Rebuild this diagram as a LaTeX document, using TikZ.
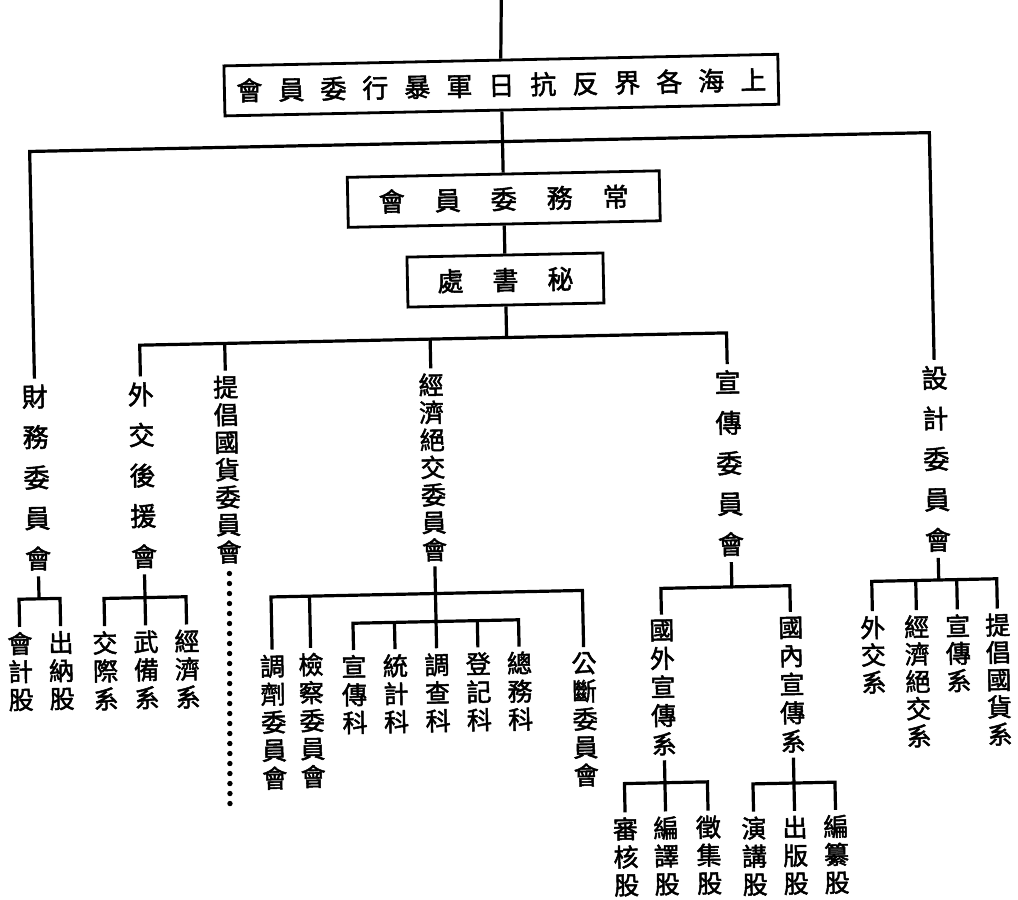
\documentclass[tikz,border=0pt]{standalone}
\usepackage{fontspec}
\newfontfamily\cjk{Noto Sans CJK TC}[FakeBold=2]
\newlength\pbw
\newcommand\pb[1]{\makebox[\pbw]{#1}}
\tikzset{
  ln/.style={line width=3.2pt, line cap=butt, line join=miter},
  dotline/.style={line width=5.4pt, line cap=round, dash pattern=on 0pt off 10pt},
  box/.style={draw, line width=2.8pt, inner sep=0pt, minimum height=50pt,
    font=\cjk\fontsize{26}{26}\selectfont},
  vtext/.style 2 args={inner sep=0pt, outer sep=5pt, anchor=north, align=center,
    font=\cjk\fontsize{#1}{#2}\selectfont},
  vbig/.style={vtext={26}{40.5}, outer sep=6pt},
  vmidA/.style={vtext={25}{27.5}},
  vmidB/.style={vtext={25}{28}},
  vmidC/.style={vtext={25}{28.5}},
  vsmA/.style={vtext={25}{28}},
  vsmB/.style={vtext={25}{27.3}},
}
\begin{document}
\begin{tikzpicture}[x=1pt,y=-1pt]
\useasboundingbox (0,0) rectangle (1018,900);
\fill[white] (0,0) rectangle (1018,900);
\begin{scope}[rotate around={1.2:(509,450)}, transform shape]
% top boxes
\coordinate (top) at (511,-8);
\node[box, minimum width=554pt] (b1) at (509,85)
  {\setlength\pbw{42pt}\pb{會}\pb{員}\pb{委}\pb{行}\pb{暴}\pb{軍}\pb{日}\pb{抗}\pb{反}\pb{界}\pb{各}\pb{海}\pb{上}};
\node[box, minimum width=312pt] (b2) at (509,199)
  {\setlength\pbw{56pt}\pb{會}\pb{員}\pb{委}\pb{務}\pb{常}};
\node[box, minimum width=196pt] (b3) at (509,280)
  {\setlength\pbw{55pt}\pb{處}\pb{書}\pb{秘}};
\coordinate (htop) at (509,141.5);
\coordinate (h2) at (509,337.5);
% first-level columns
\node[vbig] (cai) at (36,368.8) {財\\務\\委\\員\\會};
\node[vbig] (wai) at (142,368.8) {外\\交\\後\\援\\會};
\node[vmidA] (ti) at (227,364.75) {提\\倡\\國\\貨\\委\\員\\會};
\node[vmidA] (jing) at (432.5,366.75) {經\\濟\\絕\\交\\委\\員\\會};
\node[vbig] (xuan) at (729,368.8) {宣\\傳\\委\\員\\會};
\node[vbig] (she) at (936,368.8) {設\\計\\委\\員\\會};
\draw[ln] (top) -- (b1.north);
\draw[ln] (b1.south) -- (b2.north);
\draw[ln] (b2.south) -- (b3.north);
\draw[ln] (b3.south) -- (h2);
\draw[ln] (cai.north) |- (htop) -| (she.north);
\draw[ln] (wai.north) |- (h2) -| (xuan.north);
\draw[ln] (ti.north) -- (ti.north |- h2);
\draw[ln] (jing.north) -- (jing.north |- h2);
% 財務委員會
\coordinate (cs) at (36,589);
\node[vmidB] (kuai) at (16,616.75) {會\\計\\股};
\node[vmidB] (chu) at (57,616.75) {出\\納\\股};
\draw[ln] (cai.south) -- (cs);
\draw[ln] (kuai.north) |- (cs) -| (chu.north);
% 外交後援會
\coordinate (ws) at (142,590);
\node[vmidB] (jiao) at (101,617.75) {交\\際\\系};
\node[vmidB] (wu) at (142,617.75) {武\\備\\系};
\node[vmidB] (jj1) at (183,617.75) {經\\濟\\系};
\draw[ln] (wai.south) -- (wu.north);
\draw[ln] (jiao.north) |- (ws) -| (jj1.north);
% 提倡國貨委員會
\coordinate (tiend) at (222.5,805);
\draw[dotline, shorten <=5pt] (ti.south) -- (tiend);
% 經濟絕交委員會
\coordinate (js) at (432.5,592);
\coordinate (js2) at (432.5,620);
\node[vmidB] (tiao) at (268,644.75) {調\\劑\\委\\員\\會};
\node[vmidB] (jian) at (306.5,643.75) {檢\\察\\委\\員\\會};
\node[vmidB] (gong) at (579.5,648.75) {公\\斷\\委\\員\\會};
\node[vmidB] (xk) at (349.4,646.75) {宣\\傳\\科};
\node[vmidB] (tj) at (390.9,646.75) {統\\計\\科};
\node[vmidB] (dc) at (432.5,646.75) {調\\查\\科};
\node[vmidB] (dj) at (473.8,646.75) {登\\記\\科};
\node[vmidB] (zw) at (515,646.75) {總\\務\\科};
\draw[ln] (jing.south) -- (dc.north);
\draw[ln] (tiao.north) |- (js) -| (gong.north);
\draw[ln] (jian.north) -- (jian.north |- js);
\draw[ln] (xk.north) |- (js2) -| (zw.north);
\draw[ln] (tj.north) -- (tj.north |- js2);
\draw[ln] (dj.north) -- (dj.north |- js2);
% 宣傳委員會
\coordinate (xs) at (729,591.6);
\node[vmidC] (guowai) at (658,617.75) {國\\外\\宣\\傳\\系};
\node[vmidC] (guonei) at (787,617.75) {國\\內\\宣\\傳\\系};
\draw[ln] (xuan.south) -- (xs);
\draw[ln] (guowai.north) |- (xs) -| (guonei.north);
\coordinate (gws) at (658,786);
\node[vsmA] (shen) at (617.5,814.75) {審\\核\\股};
\node[vsmA] (bianyi) at (658,814.75) {編\\譯\\股};
\node[vsmA] (zheng) at (700.5,814.75) {徵\\集\\股};
\draw[ln] (guowai.south) -- (bianyi.north);
\draw[ln] (shen.north) |- (gws) -| (zheng.north);
\coordinate (gns) at (787,789);
\node[vsmA] (yan) at (746,816.75) {演\\講\\股};
\node[vsmA] (chuban) at (787,816.75) {出\\版\\股};
\node[vsmA] (bianzuan) at (828,816.75) {編\\纂\\股};
\draw[ln] (guonei.south) -- (chuban.north);
\draw[ln] (yan.north) |- (gns) -| (bianzuan.north);
% 設計委員會
\coordinate (ss) at (936,589);
\node[vsmB] (wj) at (869,618.75) {外\\交\\系};
\node[vsmB] (jj2) at (913,618.75) {經\\濟\\絕\\交\\系};
\node[vsmB] (xc) at (954,618.75) {宣\\傳\\系};
\node[vsmB] (tc) at (994,618.75) {提\\倡\\國\\貨\\系};
\draw[ln] (she.south) -- (ss);
\draw[ln] (wj.north) |- (ss) -| (tc.north);
\draw[ln] (jj2.north) -- (jj2.north |- ss);
\draw[ln] (xc.north) -- (xc.north |- ss);
\end{scope}
\end{tikzpicture}
\end{document}
